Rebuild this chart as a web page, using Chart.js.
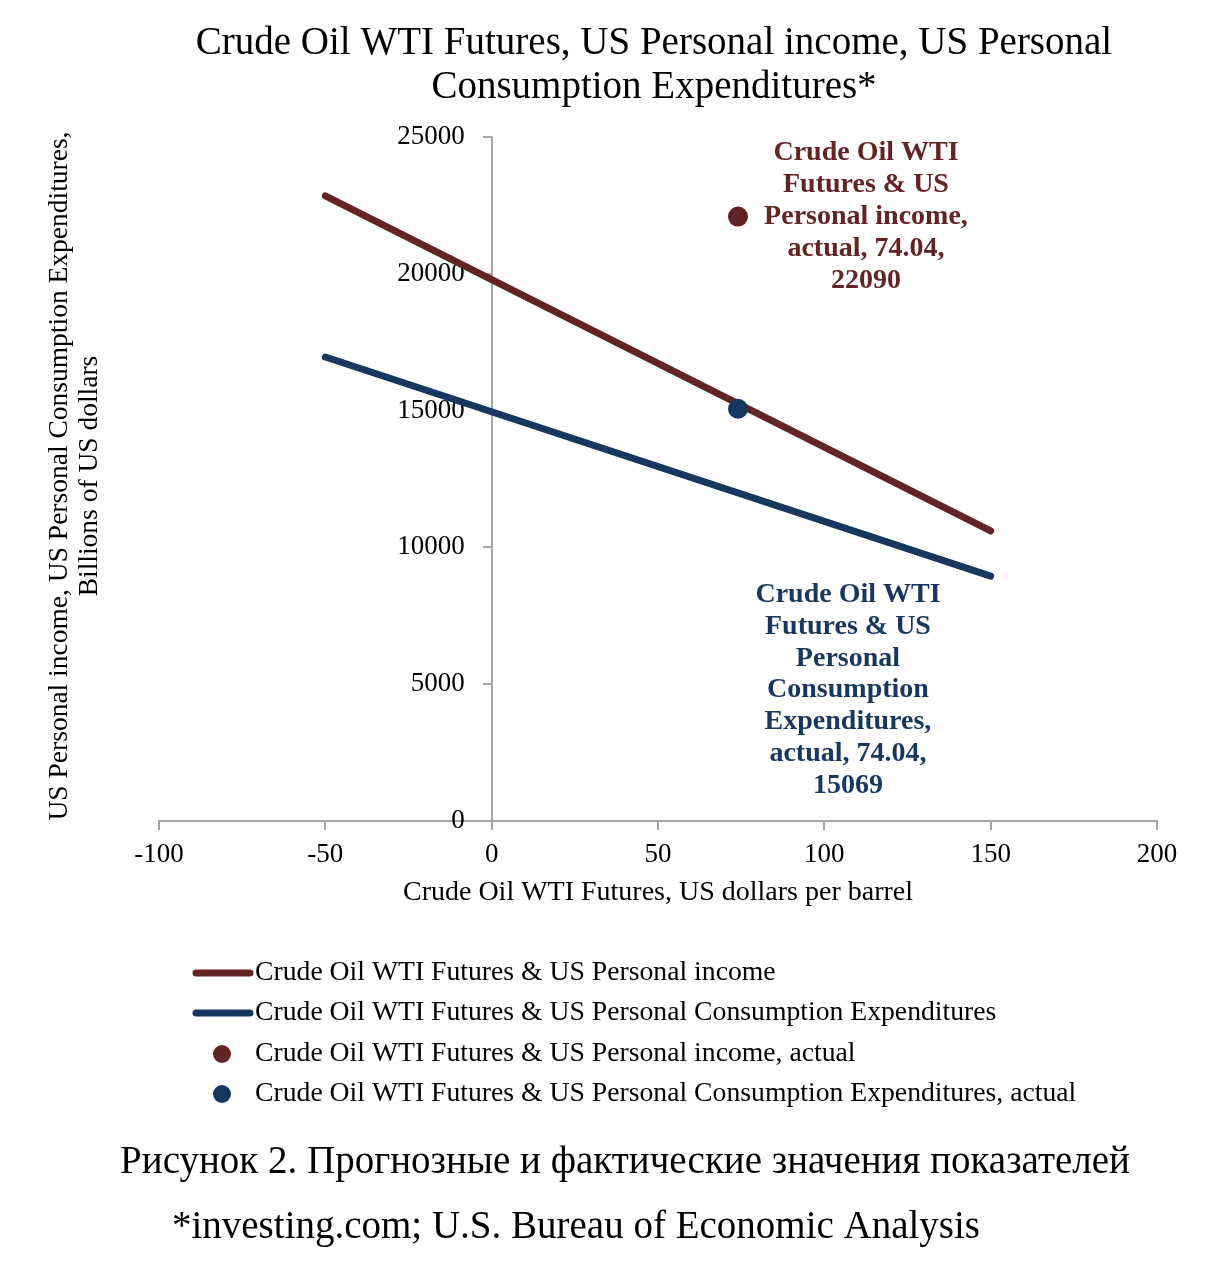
<!DOCTYPE html>
<html><head><meta charset="utf-8">
<script src="https://cdn.jsdelivr.net/npm/chart.js@4"></script>
<style>html,body{margin:0;padding:0;background:#fff}canvas{display:block}</style>
</head><body>
<canvas id="c" width="1219" height="1275"></canvas>
<script>
// ---- data ----
const lineX = [-50, 150];
const incomeLine = [22850, 10600];
const pceLine = [16960, 8950];
const actualX = [74.04];
const incomeActual = [22090];
const pceActual = [15069];
const xTicks = [-100, -50, 0, 50, 100, 150, 200];
const yTicks = [0, 5000, 10000, 15000, 20000, 25000];
const seriesNames = [
  'Crude Oil WTI Futures & US Personal income',
  'Crude Oil WTI Futures & US Personal Consumption Expenditures',
  'Crude Oil WTI Futures & US Personal income, actual',
  'Crude Oil WTI Futures & US Personal Consumption Expenditures, actual'
];
const titleLines = ['Crude Oil WTI Futures, US Personal income, US Personal', 'Consumption Expenditures*'];
const xTitle = 'Crude Oil WTI Futures, US dollars per barrel';
const yTitleLines = ['US Personal income, US Personal Consumption Expenditures,', 'Billions of US dollars'];
const incomeLabel = ['Crude Oil WTI', 'Futures & US', 'Personal income,', 'actual, 74.04,', '22090'];
const pceLabel = ['Crude Oil WTI', 'Futures & US', 'Personal', 'Consumption', 'Expenditures,', 'actual, 74.04,', '15069'];
const captionLines = ['Рисунок 2. Прогнозные и фактические значения показателей', '*investing.com; U.S. Bureau of Economic Analysis'];

const RED = '#632523';
const BLUE = '#17375E';
const AXIS = '#A6A6A6';
const FONT = "'Liberation Serif', 'Times New Roman', serif";

const toPts = (xs, ys) => xs.map((x, i) => ({x, y: ys[i]}));

const textPlugin = {
  id: 'texts',
  afterDraw(chart) {
    const ctx = chart.ctx;
    const ca = chart.chartArea;
    const xs = chart.scales.x, ys = chart.scales.y;
    ctx.save();
    ctx.fillStyle = '#000';
    ctx.textAlign = 'center';
    ctx.textBaseline = 'middle';
    // title
    ctx.font = `39px ${FONT}`;
    ctx.fillText(titleLines[0], 654, 44);
    ctx.fillText(titleLines[1], 654, 88);
    // x title
    ctx.font = `28px ${FONT}`;
    ctx.fillText(xTitle, (ca.left + ca.right) / 2, 893);
    // y title
    ctx.save();
    ctx.font = `27.5px ${FONT}`;
    ctx.translate(60, 476);
    ctx.rotate(-Math.PI / 2);
    ctx.fillText(yTitleLines[0], 0, 0);
    ctx.fillText(yTitleLines[1], 0, 30);
    ctx.restore();
    // data labels
    ctx.font = `bold 28px ${FONT}`;
    const px = xs.getPixelForValue(actualX[0]);
    const pyI = ys.getPixelForValue(incomeActual[0]);
    const pyP = ys.getPixelForValue(pceActual[0]);
    ctx.fillStyle = RED;
    incomeLabel.forEach((t, i) => ctx.fillText(t, px + 128, pyI + (i - 2) * 32));
    ctx.fillStyle = BLUE;
    pceLabel.forEach((t, i) => ctx.fillText(t, px + 110, pyP + 186 + i * 31.8));
    // legend
    ctx.textAlign = 'left';
    ctx.font = `27.7px ${FONT}`;
    const rows = [973, 1013, 1054, 1094];
    const cols = [RED, BLUE, RED, BLUE];
    rows.forEach((ry, i) => {
      ctx.fillStyle = '#000';
      ctx.fillText(seriesNames[i], 255, ry);
      if (i < 2) {
        ctx.strokeStyle = cols[i];
        ctx.lineWidth = 7;
        ctx.lineCap = 'round';
        ctx.beginPath();
        ctx.moveTo(196, ry); ctx.lineTo(250, ry); ctx.stroke();
      } else {
        ctx.fillStyle = cols[i];
        ctx.beginPath();
        ctx.arc(222, ry, 9, 0, Math.PI * 2); ctx.fill();
      }
    });
    // caption
    ctx.fillStyle = '#000';
    ctx.textAlign = 'center';
    ctx.font = `39px ${FONT}`;
    ctx.fillText(captionLines[0], 625, 1163);
    ctx.fillText(captionLines[1], 576, 1228);
    ctx.restore();
  }
};

new Chart(document.getElementById('c'), {
  type: 'scatter',
  data: {
    datasets: [
      {label: seriesNames[0], data: toPts(lineX, incomeLine), showLine: true, borderColor: RED, backgroundColor: RED, borderWidth: 7, borderCapStyle: 'round', pointRadius: 0, order: 2},
      {label: seriesNames[1], data: toPts(lineX, pceLine), showLine: true, borderColor: BLUE, backgroundColor: BLUE, borderWidth: 7, borderCapStyle: 'round', pointRadius: 0, order: 3},
      {label: seriesNames[2], data: toPts(actualX, incomeActual), borderColor: RED, backgroundColor: RED, pointRadius: 10, pointBorderWidth: 0, order: 0},
      {label: seriesNames[3], data: toPts(actualX, pceActual), borderColor: BLUE, backgroundColor: BLUE, pointRadius: 10, pointBorderWidth: 0, order: 0}
    ]
  },
  options: {
    responsive: false,
    animation: false,
    events: [],
    layout: {padding: {left: 159, right: 62, top: 137, bottom: 454}},
    plugins: {legend: {display: false}, title: {display: false}, tooltip: {enabled: false}},
    scales: {
      x: {
        type: 'linear', min: -100, max: 200, position: {y: 0},
        afterBuildTicks: s => { s.ticks = xTicks.map(v => ({value: v})); },
        grid: {drawOnChartArea: false, tickLength: 8, color: AXIS, lineWidth: 2},
        border: {color: AXIS, width: 2},
        ticks: {color: '#000', font: {family: FONT, size: 27}, padding: 10, maxRotation: 0, callback: v => String(v)}
      },
      y: {
        type: 'linear', min: 0, max: 25000, position: {x: 0},
        afterBuildTicks: s => { s.ticks = yTicks.map(v => ({value: v})); },
        grid: {drawOnChartArea: false, tickLength: 8, color: AXIS, lineWidth: 2},
        border: {color: AXIS, width: 2},
        ticks: {color: '#000', font: {family: FONT, size: 27}, callback: v => String(v) + '    '}
      }
    }
  },
  plugins: [textPlugin]
});
</script>
</body></html>
